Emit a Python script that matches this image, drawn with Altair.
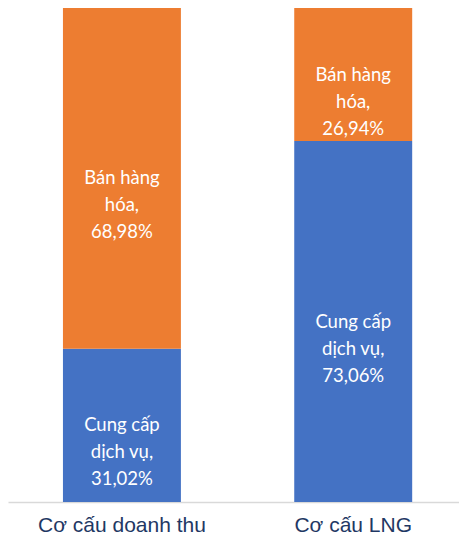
import altair as alt
import pandas as pd

categories = ["Cơ cấu doanh thu", "Cơ cấu doanh thu", "Cơ cấu LNG", "Cơ cấu LNG"]
segments = ["Cung cấp dịch vụ", "Bán hàng hóa", "Cung cấp dịch vụ", "Bán hàng hóa"]
values = [31.02, 68.98, 73.06, 26.94]
labels = ["Cung cấp\ndịch vụ,\n31,02%", "Bán hàng\nhóa,\n68,98%",
          "Cung cấp\ndịch vụ,\n73,06%", "Bán hàng\nhóa,\n26,94%"]
order = [0, 1, 0, 1]

df = pd.DataFrame({"cat": categories, "seg": segments, "val": values,
                   "label": labels, "ord": order})

base = alt.Chart(df).transform_stack(
    stack="val", groupby=["cat"], as_=["y0", "y1"], sort=[alt.SortField("ord")]
).transform_calculate(mid="(datum.y0 + datum.y1) / 2")

xscale = alt.Scale(paddingInner=0.49, paddingOuter=0.22, align=0.54)
xenc = alt.X("cat:N", sort=["Cơ cấu doanh thu", "Cơ cấu LNG"], scale=xscale,
             axis=alt.Axis(title=None, labelAngle=0, ticks=False, domainColor="#D9D9D9",
                           domainWidth=1.5, labelFont="Liberation Sans", labelFontSize=21,
                           labelColor="#1F3864", labelPadding=12))
yscale = alt.Scale(domain=[0, 100], nice=False, zero=True)

bars = base.mark_bar().encode(
    x=xenc,
    y=alt.Y("y0:Q", scale=yscale, axis=None),
    y2="y1:Q",
    color=alt.Color("seg:N", scale=alt.Scale(domain=["Cung cấp dịch vụ", "Bán hàng hóa"],
                                             range=["#4472C4", "#ED7D31"]), legend=None),
)

text = base.mark_text(color="white", font="Lato", fontSize=18.5, lineBreak="\n",
                      lineHeight=27, baseline="middle", align="center").encode(
    x=alt.X("cat:N", sort=["Cơ cấu doanh thu", "Cơ cấu LNG"], scale=xscale),
    y=alt.Y("mid:Q", scale=yscale),
    text="label:N",
)

chart = (bars + text).properties(width=451, height=494, padding=0).configure_view(stroke=None)
chart.save("out.html", embed_options={"renderer": "svg", "actions": False})
